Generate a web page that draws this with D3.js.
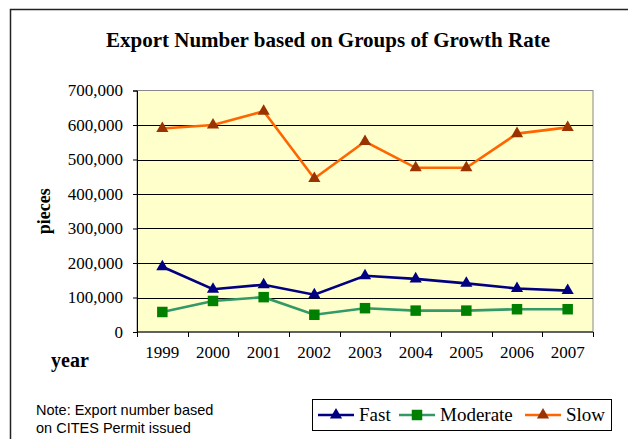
<!DOCTYPE html>
<html>
<head>
  <meta charset="utf-8">
  <script src="https://d3js.org/d3.v7.min.js"></script>
  <style>
    body { margin: 0; background: #fff; }
    svg { display: block; }
  </style>
</head>
<body>
  <svg id="chart" width="628" height="439"></svg>

  <script>
    // datos
    const years = ["1999", "2000", "2001", "2002", "2003", "2004", "2005", "2006", "2007"];
    const fast = [189000, 124000, 137000, 108000, 163000, 154000, 141000, 126000, 120000];
    const moderate = [58000, 90000, 101000, 50000, 69000, 62000, 62000, 66000, 66000];
    const slow = [590000, 600000, 640000, 445000, 552000, 476000, 476000, 575000, 593000];
    const yTicks = [0, 100000, 200000, 300000, 400000, 500000, 600000, 700000];

    const series = [
      { name: "Fast", values: fast, line: "#000080", marker: "#000080", shape: "triangle" },
      { name: "Moderate", values: moderate, line: "#339966", marker: "#008000", shape: "square" },
      { name: "Slow", values: slow, line: "#FF6600", marker: "#993300", shape: "triangle" }
    ];

    const width = 628;
    const height = 439;
    const plot = { left: 137, right: 593, top: 90.5, bottom: 332 };
    const serif = "Liberation Serif";
    const sans = "Liberation Sans";

    const svg = d3.select("#chart");

    // marco exterior
    svg.append("rect")
      .attr("x", 10.5).attr("y", 9.5)
      .attr("width", width).attr("height", height)
      .attr("fill", "none").attr("stroke", "#222").attr("stroke-width", 1.5);

    // Escalas
    const x = d3.scaleBand().domain(years).range([plot.left, plot.right]);
    const y = d3.scaleLinear().domain([0, 700000]).range([plot.bottom, plot.top]);

    // fondo del área de trazado
    svg.append("rect")
      .attr("x", plot.left).attr("y", plot.top)
      .attr("width", plot.right - plot.left).attr("height", plot.bottom - plot.top)
      .attr("fill", "#FFFFCC").attr("stroke", "#888").attr("stroke-width", 1);

    // líneas de cuadrícula
    svg.append("g")
      .selectAll("line")
      .data(yTicks.filter(d => d > 0 && d < 700000))
      .enter()
      .append("line")
      .attr("x1", plot.left).attr("x2", plot.right)
      .attr("y1", d => Math.round(y(d)) + 0.5).attr("y2", d => Math.round(y(d)) + 0.5)
      .attr("stroke", "#000").attr("stroke-width", 1);

    // Eje y
    const yAxis = d3.axisLeft(y).tickValues(yTicks).tickSize(4).tickPadding(10)
      .tickFormat(d3.format(","));
    const gy = svg.append("g")
      .attr("transform", `translate(${plot.left},0)`)
      .call(yAxis);
    gy.select(".domain").attr("stroke", "#000");
    gy.selectAll("text")
      .attr("fill", "#000")
      .style("font-family", serif)
      .style("font-size", "17px");

    // Eje x
    const gx = svg.append("g")
      .attr("transform", `translate(0,${plot.bottom})`);
    gx.append("line")
      .attr("x1", plot.left).attr("x2", plot.right)
      .attr("stroke", "#000");
    gx.selectAll(".tick")
      .data(years.concat(["end"]))
      .enter()
      .append("line")
      .attr("x1", (d, i) => Math.round(plot.left + i * x.bandwidth()) + 0.5)
      .attr("x2", (d, i) => Math.round(plot.left + i * x.bandwidth()) + 0.5)
      .attr("y1", 0).attr("y2", 5)
      .attr("stroke", "#000");
    gx.selectAll("text")
      .data(years)
      .enter()
      .append("text")
      .attr("x", d => x(d) + x.bandwidth() / 2)
      .attr("y", 26)
      .attr("text-anchor", "middle")
      .style("font-family", serif).style("font-size", "17px")
      .text(d => d);

    // series
    const line = d3.line()
      .x((d, i) => x(years[i]) + x.bandwidth() / 2)
      .y(d => y(d));

    const symbolFor = s => d3.symbol()
      .type(s.shape === "square" ? d3.symbolSquare : d3.symbolTriangle)
      .size(s.shape === "square" ? 110 : 64);

    series.forEach(s => {
      svg.append("path")
        .datum(s.values)
        .attr("d", line)
        .attr("fill", "none")
        .attr("stroke", s.line)
        .attr("stroke-width", 2.6);

      svg.append("g")
        .selectAll("path")
        .data(s.values)
        .enter()
        .append("path")
        .attr("transform", (d, i) => `translate(${x(years[i]) + x.bandwidth() / 2},${y(d)})`)
        .attr("d", symbolFor(s))
        .attr("fill", s.marker);
    });

    // Título
    svg.append("text")
      .attr("x", 328).attr("y", 47)
      .attr("text-anchor", "middle")
      .style("font-family", serif).style("font-weight", "bold").style("font-size", "21px")
      .text("Export Number based on Groups of Growth Rate");

    // Etiquetas de ejes
    svg.append("text")
      .attr("transform", "rotate(-90)")
      .attr("x", -(plot.top + plot.bottom) / 2)
      .attr("y", 50)
      .attr("text-anchor", "middle")
      .style("font-family", serif).style("font-weight", "bold").style("font-size", "18px")
      .text("pieces");

    svg.append("text")
      .attr("x", 70).attr("y", 367)
      .attr("text-anchor", "middle")
      .style("font-family", serif).style("font-weight", "bold").style("font-size", "20px")
      .text("year");

    // Nota
    const note = svg.append("text")
      .style("font-family", sans).style("font-size", "14.5px");
    note.append("tspan").attr("x", 36).attr("y", 415).text("Note: Export number based");
    note.append("tspan").attr("x", 36).attr("y", 433).text("on CITES Permit issued");

    // Leyenda
    const legend = svg.append("g");
    legend.append("rect")
      .attr("x", 312.5).attr("y", 399.5)
      .attr("width", 299).attr("height", 31)
      .attr("fill", "#fff").attr("stroke", "#000");

    const legendX = [318, 399, 525];
    series.forEach((s, i) => {
      const g = legend.append("g").attr("transform", `translate(${legendX[i]},415)`);
      g.append("line")
        .attr("x1", 0).attr("x2", 36)
        .attr("stroke", s.line).attr("stroke-width", 2.6);
      g.append("path")
        .attr("transform", "translate(18,0)")
        .attr("d", symbolFor(s))
        .attr("fill", s.marker);
      g.append("text")
        .attr("x", 41).attr("y", 6)
        .style("font-family", serif).style("font-size", "19px")
        .text(s.name);
    });
  </script>
</body>
</html>
